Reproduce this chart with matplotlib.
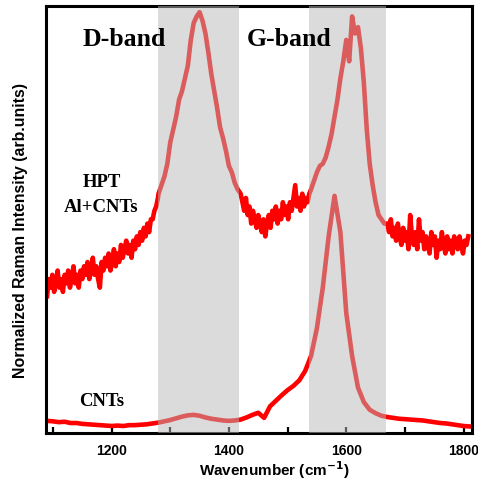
import numpy as np
import matplotlib
matplotlib.use("Agg")
import matplotlib.pyplot as plt
from matplotlib.ticker import MultipleLocator

# HPT Al+CNTs spectrum: denser sampling in the noisy stretches, coarser inside the bands
hpt_wavenumber = np.concatenate([
    np.arange(1090, 1280, 3),
    np.arange(1280, 1420, 5),
    np.arange(1420, 1540, 3),
    np.arange(1540, 1670, 5),
    np.arange(1670, 1811, 3),
])
hpt_intensity = [
    # 1090 - 1279
    0.32, 0.36, 0.34, 0.37, 0.33, 0.35, 0.38, 0.34, 0.36, 0.33,
    0.37, 0.35, 0.38, 0.34, 0.36, 0.39, 0.35, 0.37, 0.34, 0.38,
    0.36, 0.39, 0.37, 0.40, 0.36, 0.38, 0.41, 0.37, 0.39, 0.36,
    0.34, 0.40, 0.38, 0.41, 0.39, 0.42, 0.38, 0.40, 0.43, 0.39,
    0.42, 0.40, 0.44, 0.41, 0.43, 0.45, 0.42, 0.44, 0.41, 0.45,
    0.43, 0.46, 0.44, 0.47, 0.45, 0.48, 0.46, 0.49, 0.47, 0.50,
    0.50, 0.52, 0.53, 0.55,
    # 1280 - 1415 (D band)
    0.56, 0.58, 0.60, 0.63, 0.68, 0.71, 0.74, 0.78, 0.80, 0.83,
    0.86, 0.92, 0.96, 0.975, 0.985, 0.965, 0.935, 0.89, 0.84, 0.80,
    0.76, 0.715, 0.69, 0.66, 0.625, 0.61, 0.585, 0.57,
    # 1420 - 1537
    0.56, 0.54, 0.52, 0.55, 0.51, 0.53, 0.49, 0.52, 0.50, 0.48,
    0.51, 0.49, 0.47, 0.50, 0.46, 0.49, 0.51, 0.48, 0.52, 0.50,
    0.53, 0.49, 0.52, 0.50, 0.54, 0.51, 0.53, 0.50, 0.54, 0.52,
    0.55, 0.58, 0.53, 0.55, 0.52, 0.56, 0.53, 0.55, 0.54, 0.56,
    # 1540 - 1665 (G band)
    0.57, 0.59, 0.61, 0.625, 0.63, 0.645, 0.67, 0.70, 0.74, 0.78,
    0.83, 0.87, 0.92, 0.87, 0.975, 0.935, 0.95, 0.90, 0.82, 0.71,
    0.63, 0.58, 0.54, 0.51, 0.50, 0.49,
    # 1670 - 1808
    0.49, 0.47, 0.50, 0.46, 0.48, 0.45, 0.49, 0.46, 0.44, 0.48,
    0.45, 0.47, 0.43, 0.51, 0.46, 0.44, 0.47, 0.43, 0.50, 0.45,
    0.47, 0.43, 0.46, 0.44, 0.42, 0.47, 0.44, 0.46, 0.41, 0.45,
    0.43, 0.47, 0.44, 0.42, 0.46, 0.43, 0.45, 0.42, 0.46, 0.44,
    0.43, 0.46, 0.44, 0.42, 0.45, 0.44, 0.46,
]

# pure CNTs spectrum, every 10 cm-1
cnt_wavenumber = np.arange(1090, 1811, 10)
cnt_intensity = [
    0.028, 0.027, 0.025, 0.026, 0.023, 0.023, 0.021, 0.020, 0.019, 0.018,
    0.017, 0.016, 0.017, 0.016, 0.018, 0.018, 0.019, 0.020, 0.022, 0.024,
    0.027, 0.030, 0.034, 0.038, 0.041, 0.042, 0.040, 0.036, 0.033, 0.031,
    0.029, 0.028, 0.029, 0.031, 0.036, 0.042, 0.047, 0.035, 0.062, 0.075,
    0.088, 0.100, 0.110, 0.123, 0.145, 0.180, 0.245, 0.340, 0.460, 0.555,
    0.470, 0.281, 0.180, 0.106, 0.072, 0.054, 0.046, 0.040, 0.037, 0.035,
    0.033, 0.032, 0.031, 0.030, 0.029, 0.027, 0.025, 0.023, 0.022, 0.020,
    0.018, 0.016, 0.015,
]

d_band = (1279, 1418)
g_band = (1537, 1667)

fig = plt.figure(figsize=(4.78, 4.82), dpi=100)
ax = fig.add_axes([0.096, 0.102, 0.891, 0.886])

ax.plot(hpt_wavenumber, hpt_intensity, color="#ff0000", lw=3.3, zorder=2)
ax.plot(cnt_wavenumber, cnt_intensity, color="#ff0000", lw=3.3, zorder=2)

# grey bands drawn on top, semi transparent
for lo, hi in (d_band, g_band):
    ax.axvspan(lo, hi, color="#b9b9b9", alpha=0.5, lw=0, zorder=2.6)

serif = ["Liberation Serif", "DejaVu Serif"]
ax.text(1221, 0.92, "D-band", family=serif, weight="bold", fontsize=18.5,
        ha="center", va="center", zorder=3)
ax.text(1503, 0.92, "G-band", family=serif, weight="bold", fontsize=18.5,
        ha="center", va="center", zorder=3)
ax.text(1183, 0.586, "HPT", family=serif, weight="bold", fontsize=13.5,
        ha="center", va="center", zorder=3)
ax.text(1183, 0.527, "Al+CNTs", family=serif, weight="bold", fontsize=13.5,
        ha="center", va="center", zorder=3)
ax.text(1183, 0.074, "CNTs", family=serif, weight="bold", fontsize=13.5,
        ha="center", va="center", zorder=3)

ax.set_xlim(1088, 1814)
ax.set_ylim(0, 1.0)
ax.xaxis.set_major_locator(MultipleLocator(200))
ax.xaxis.set_minor_locator(MultipleLocator(100))
ax.set_yticks([])
ax.tick_params(axis="x", which="both", direction="in", length=4, width=1.6,
               pad=8)
for lab in ax.get_xticklabels():
    lab.set_fontweight("bold")
    lab.set_fontsize(10)
    lab.set_family("Liberation Sans")
for s in ax.spines.values():
    s.set_linewidth(2.2)

ax.set_xlabel("Wavenumber (cm$^{\\mathbf{-1}}$)", fontsize=11, fontweight="bold",
              family="Liberation Sans", va="center")
ax.xaxis.set_label_coords(0.536, -0.088)
ax.set_ylabel("Normalized Raman Intensity (arb.units)", fontsize=11.4,
              fontweight="bold", family="Liberation Sans", va="center")
ax.yaxis.set_label_coords(-0.059, 0.473)

fig.savefig("out.png", dpi=100)
